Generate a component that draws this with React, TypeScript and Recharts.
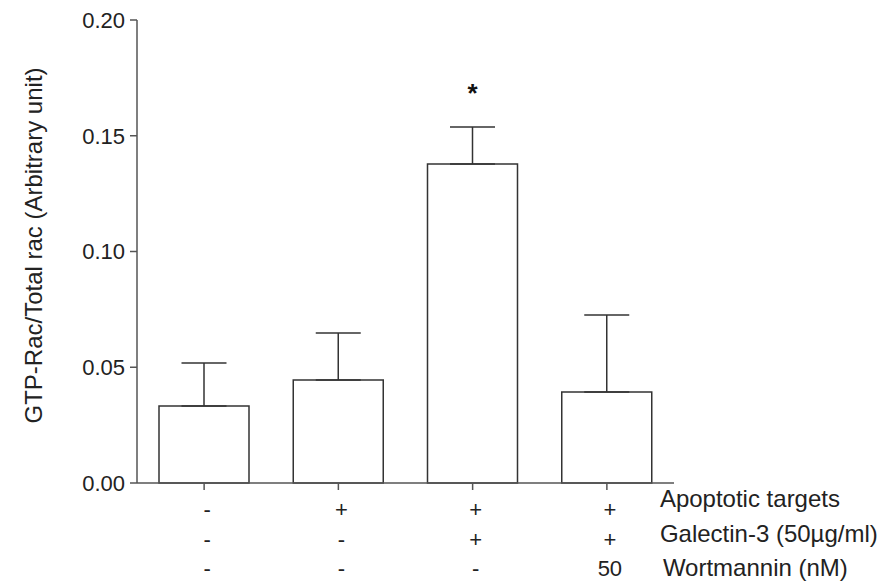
import { Bar, BarChart, ErrorBar, LabelList, XAxis, YAxis } from "recharts";

// one bar per treatment group
const groups = ["control", "targets", "targets+gal3", "targets+gal3+wort"];
const ratios = [0.0333, 0.0445, 0.1378, 0.0393];
const sems = [0.0185, 0.0203, 0.016, 0.0333];
const marks = ["", "", "*", ""];

// condition rows under the x axis
const apoptoticTargets = ["-", "+", "+", "+"];
const galectin3 = ["-", "-", "+", "+"];
const wortmannin = ["-", "-", "-", "50"];
const rowLabels = ["Apoptotic targets", "Galectin-3 (50µg/ml)", "Wortmannin (nM)"];

const yTicks = [0, 0.05, 0.1, 0.15, 0.2];

const data = groups.map((group, i) => ({
	group,
	ratio: ratios[i],
	err: [0, sems[i]],
	mark: marks[i],
}));

const font = "'Liberation Sans', Arial, sans-serif";
const ink = "#222";
const line = "#555";

function ConditionTick(props: any) {
	const { x, y, index } = props;
	const cells = [apoptoticTargets[index], galectin3[index], wortmannin[index]];
	const baselines = [27, 57, 86];
	const labelBaselines = [17, 52, 86];
	return (
		<g>
			{cells.map((cell, k) => (
				<text
					key={k}
					x={x + 3}
					y={y + baselines[k]}
					textAnchor="middle"
					fontFamily={font}
					fontSize={22}
					fill={ink}
				>
					{cell}
				</text>
			))}
			{index === groups.length - 1 &&
				rowLabels.map((label, k) => (
					<text
						key={label}
						x={x + 53 + (k === 2 ? 3 : 0)}
						y={y + labelBaselines[k]}
						fontFamily={font}
						fontSize={24}
						fill={ink}
					>
						{label}
					</text>
				))}
		</g>
	);
}

function yLabel(props: any) {
	const { viewBox } = props;
	const cy = viewBox.y + viewBox.height / 2 - 6;
	return (
		<text
			x={42}
			y={cy}
			transform={`rotate(-90 42 ${cy})`}
			textAnchor="middle"
			fontFamily={font}
			fontSize={24}
			fill={ink}
		>
			GTP-Rac/Total rac (Arbitrary unit)
		</text>
	);
}

export default function App() {
	return (
		<div
			style={{
				position: "absolute",
				left: 0,
				top: 0,
				width: 884,
				height: 582,
				background: "#fff",
			}}
		>
			<BarChart
				width={884}
				height={582}
				data={data}
				margin={{ top: 20, right: 210, bottom: 9, left: 77 }}
				barSize={90}
			>
				<YAxis
					width={60}
					domain={[0, 0.2]}
					ticks={yTicks}
					tickFormatter={(v: number) => v.toFixed(2)}
					tickSize={7}
					tickMargin={5}
					stroke={line}
					strokeWidth={1.5}
					tick={{ fill: ink, fontSize: 22, fontFamily: font }}
					label={yLabel}
				/>
				<XAxis
					dataKey="group"
					height={90}
					tickSize={7}
					tickMargin={0}
					stroke={line}
					strokeWidth={1.5}
					tick={<ConditionTick />}
					interval={0}
				/>
				<Bar
					dataKey="ratio"
					fill="#fff"
					stroke="#333"
					strokeWidth={1.5}
					isAnimationActive={false}
				>
					<ErrorBar
						dataKey="err"
						width={22.5}
						stroke="#333"
						strokeWidth={1.5}
						direction="y"
						isAnimationActive={false}
					/>
					<LabelList
						dataKey="mark"
						position="top"
						offset={62}
						fill="#111"
						fontSize={26}
						fontWeight="bold"
						fontFamily={font}
					/>
				</Bar>
			</BarChart>
		</div>
	);
}
